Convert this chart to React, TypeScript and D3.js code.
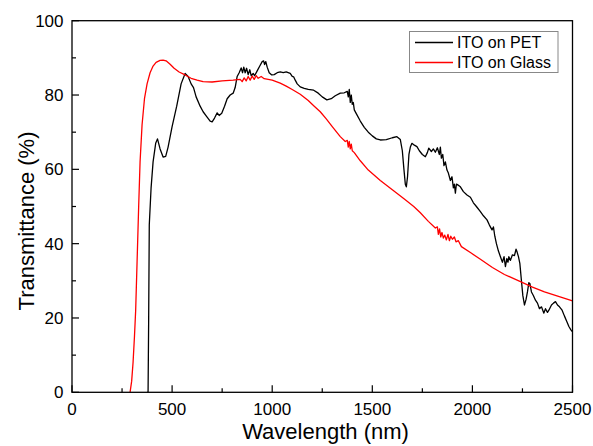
import React from "react";
import * as d3 from "d3";

const xTicks = [0, 500, 1000, 1500, 2000, 2500];
const yTicks = [0, 20, 40, 60, 80, 100];
const seriesNames = ["ITO on PET", "ITO on Glass"];
const seriesColors = ["#000000", "#ff0000"];

const petData: [number, number][] = [
  [375, 0], [380, 0], [383, 20], [386, 45], [395, 55], [405, 62], [418, 67], [427, 68.2], [440, 65.5], [455, 63.3],
  [468, 63.5], [480, 66], [500, 71.5], [523, 77], [545, 83], [565, 85.8], [580, 85], [595, 83], [607, 82], [620, 79.5],
  [640, 77], [655, 75.5], [673, 74.2], [690, 73], [700, 72.8], [712, 73.8], [725, 75.2], [735, 74.5], [748, 75.1],
  [762, 77], [775, 79], [790, 80], [805, 80.5], [815, 82], [825, 85], [835, 86], [845, 87.3], [852, 86], [858, 87.5],
  [865, 86], [872, 87.2], [880, 85.5], [888, 86.8], [895, 85.2], [905, 85.8], [912, 85.2], [925, 86.5], [940, 88],
  [950, 89], [957, 89.2], [962, 88.2], [968, 89], [975, 87.5], [985, 86], [998, 85.4], [1010, 85.5], [1025, 86],
  [1040, 86.2], [1055, 86], [1070, 86.2], [1090, 85.8], [1100, 85], [1107, 84.9], [1115, 84], [1125, 83], [1140, 82.2],
  [1160, 81.8], [1180, 81.5], [1207, 81.3], [1230, 80.5], [1250, 79.5], [1273, 78.7], [1295, 79], [1315, 79.8],
  [1340, 80.5], [1360, 80.6], [1375, 81], [1380, 79.5], [1385, 81.5], [1390, 78], [1395, 80], [1400, 77.5], [1405, 78],
  [1410, 76], [1420, 75], [1440, 73], [1460, 71.3], [1480, 70], [1500, 69], [1520, 68.2], [1540, 67.9], [1570, 68],
  [1600, 68.5], [1623, 68.8], [1640, 68], [1650, 65], [1658, 60], [1665, 56], [1670, 55.3], [1676, 58], [1683, 64],
  [1690, 66], [1698, 67], [1710, 66.5], [1723, 66.1], [1735, 65], [1750, 64], [1765, 63.4], [1775, 64.5], [1782, 65.7],
  [1795, 64.8], [1805, 65.5], [1815, 64.6], [1825, 65.8], [1835, 64], [1840, 66], [1845, 63], [1852, 64], [1858, 61],
  [1865, 62], [1873, 59.8], [1880, 59], [1890, 57], [1898, 58], [1905, 55], [1910, 56], [1915, 53.6], [1920, 56],
  [1928, 55.8], [1940, 55.3], [1955, 54], [1973, 53.1], [1990, 52.5], [2005, 51], [2020, 50], [2040, 48.6], [2055, 47.5],
  [2073, 46.4], [2085, 45], [2098, 43.7], [2105, 44.5], [2112, 42], [2120, 40], [2130, 38], [2140, 36.5], [2150, 35],
  [2158, 36.5], [2165, 33.8], [2172, 36], [2178, 35], [2182, 36.5], [2190, 35.5], [2200, 37], [2210, 36.8], [2218, 38.5],
  [2223, 37.8], [2230, 36.5], [2237, 34.7], [2245, 30], [2252, 26], [2260, 23.5], [2268, 25], [2275, 27], [2282, 29.5],
  [2287, 29.3], [2295, 27], [2305, 26], [2315, 24.8], [2325, 24], [2335, 22.5], [2345, 23], [2357, 21.3], [2365, 22.5],
  [2375, 21.5], [2382, 22.1], [2395, 23.5], [2405, 24], [2415, 24.4], [2425, 23.5], [2435, 23], [2448, 22.1],
  [2460, 20.5], [2472, 19], [2482, 17.7], [2492, 16.8], [2500, 16.3],
];

const glassData: [number, number][] = [
  [290, 0], [298, 3], [305, 8], [312, 15], [318, 22], [325, 35], [333, 50], [340, 62], [350, 72], [362, 79], [375, 83],
  [390, 86], [405, 87.8], [420, 88.8], [440, 89.3], [455, 89.4], [470, 89.2], [490, 88.3], [510, 87.2], [535, 86.2],
  [565, 85.4], [595, 84.5], [625, 84], [655, 83.6], [700, 83.5], [750, 83.8], [805, 84], [840, 84.2], [850, 83.6],
  [860, 84.6], [870, 83.8], [880, 85], [890, 84], [900, 85.1], [910, 84.2], [920, 85.2], [930, 84.5], [945, 85],
  [960, 84.4], [980, 84.2], [1000, 84], [1020, 83.6], [1040, 83.2], [1070, 82.4], [1100, 81.5], [1140, 80.2],
  [1180, 78.5], [1210, 77], [1240, 75.5], [1270, 73.6], [1300, 71.5], [1340, 68.8], [1365, 67.5], [1375, 67.8],
  [1380, 66], [1385, 67.5], [1390, 65.5], [1395, 66.8], [1400, 65], [1410, 64.5], [1440, 62.3], [1480, 59.8],
  [1540, 57], [1600, 54.5], [1660, 52], [1707, 50], [1740, 48.3], [1780, 46], [1815, 44.2], [1825, 44.5], [1830, 42.5],
  [1836, 44], [1842, 41.8], [1848, 43], [1855, 41.5], [1862, 42.3], [1870, 41], [1878, 42.5], [1885, 40.8], [1892, 42],
  [1900, 41.2], [1910, 41.8], [1918, 40.5], [1930, 40.8], [1945, 39.2], [1990, 37.6], [2040, 35.8], [2100, 33.6],
  [2160, 31.7], [2240, 29.8], [2300, 28.3], [2360, 27], [2430, 25.8], [2500, 24.6],
];

const W = 593;
const H = 446;
const L = 72;
const R = 572.5;
const T = 20.7;
const B = 392.3;
const FONT = "Arial, 'Liberation Sans', sans-serif";

export default function App() {
  const x = d3.scaleLinear().domain([0, 2500]).range([L, R]);
  const y = d3.scaleLinear().domain([0, 100]).range([B, T]);
  const line = d3
    .line<[number, number]>()
    .x((d) => x(d[0]))
    .y((d) => y(d[1]));
  const xMinor = d3.range(250, 2500, 500);
  const yMinor = d3.range(10, 100, 20);
  const series = [petData, glassData];

  return (
    <svg width={W} height={H} style={{ position: "absolute", left: 0, top: 0, background: "#fff" }} fontFamily={FONT}>
      <rect x={0} y={0} width={W} height={H} fill="#fff" />
      <defs>
        <clipPath id="plot">
          <rect x={L} y={T} width={R - L} height={B - T} />
        </clipPath>
      </defs>
      <g clipPath="url(#plot)">
        {series.map((s, i) => (
          <path key={i} d={line(s) || ""} fill="none" stroke={seriesColors[i]} strokeWidth={1.3} strokeLinejoin="round" />
        ))}
      </g>
      <rect x={L} y={T} width={R - L} height={B - T} fill="none" stroke="#000" strokeWidth={1.3} />
      {xTicks.map((t) => (
        <g key={"x" + t}>
          <line x1={x(t)} x2={x(t)} y1={B} y2={B - 7} stroke="#000" strokeWidth={1.2} />
          <text x={x(t)} y={415} fontSize={17} textAnchor="middle" fill="#000">
            {t}
          </text>
        </g>
      ))}
      {xMinor.map((t) => (
        <line key={"xm" + t} x1={x(t)} x2={x(t)} y1={B} y2={B - 4} stroke="#000" strokeWidth={1.2} />
      ))}
      {yTicks.map((t) => (
        <g key={"y" + t}>
          <line x1={L} x2={L + 7} y1={y(t)} y2={y(t)} stroke="#000" strokeWidth={1.2} />
          <text x={63.5} y={y(t) + 6} fontSize={17} textAnchor="end" fill="#000">
            {t}
          </text>
        </g>
      ))}
      {yMinor.map((t) => (
        <line key={"ym" + t} x1={L} x2={L + 4} y1={y(t)} y2={y(t)} stroke="#000" strokeWidth={1.2} />
      ))}
      <text x={325.5} y={439} fontSize={22} textAnchor="middle" fill="#000">
        Wavelength (nm)
      </text>
      <text transform="translate(33.5,221) rotate(-90)" fontSize={22} textAnchor="middle" fill="#000">
        Transmittance (%)
      </text>
      <g>
        <rect x={409.5} y={31.5} width={148.5} height={41} fill="#fff" stroke="#888" strokeWidth={1} />
        {seriesNames.map((n, i) => (
          <g key={n}>
            <line x1={415} x2={453} y1={42.5 + i * 20} y2={42.5 + i * 20} stroke={seriesColors[i]} strokeWidth={1.3} />
            <text x={457} y={48.3 + i * 20} fontSize={16} fill="#000">
              {n}
            </text>
          </g>
        ))}
      </g>
    </svg>
  );
}
